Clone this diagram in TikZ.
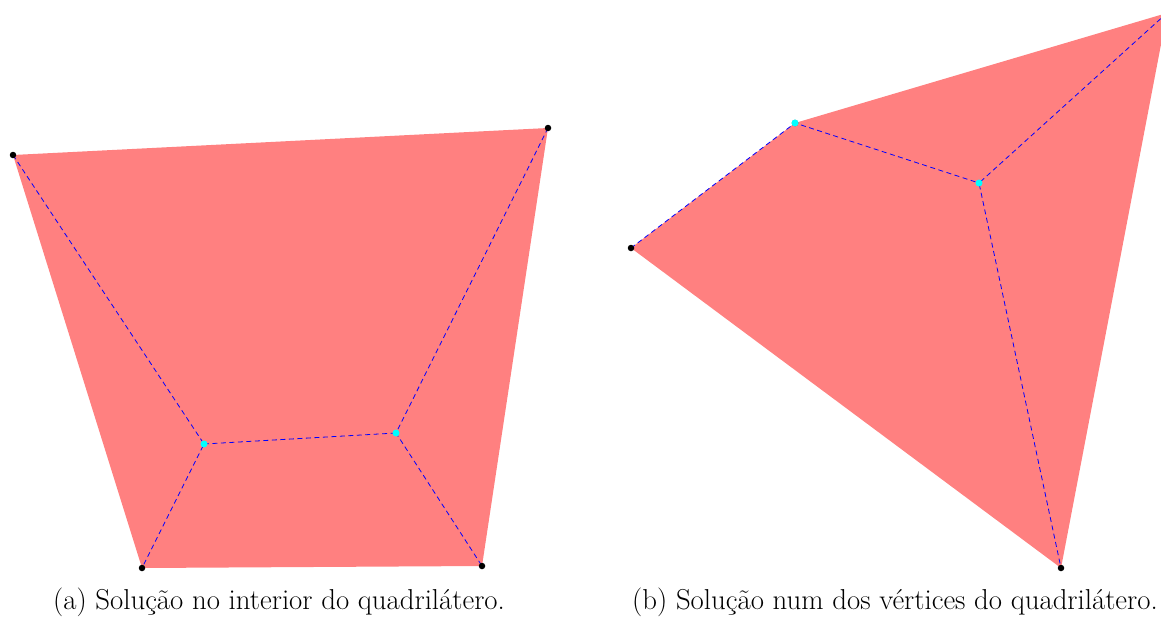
\documentclass[tikz,border=0pt]{standalone}
\usepackage{fontspec}
\definecolor{ptcyan}{RGB}{0,255,255}
\begin{document}
\begin{tikzpicture}[x=1pt,y=-1pt,
  region/.style={fill=red!50,draw=none},
  steiner/.style={blue,dashed,line width=0.8pt,dash pattern=on 5pt off 3.5pt},
  vtx/.style={circle,fill=black,inner sep=0pt,minimum size=6.5pt},
  spt/.style={circle,fill=ptcyan,inner sep=0pt,minimum size=7pt},
  captext/.style={font=\fontsize{28.8}{32}\selectfont,inner sep=0pt,anchor=base}]
\useasboundingbox (0,0) rectangle (1161,616);
% (a)
\coordinate (A) at (13,155);
\coordinate (B) at (548,128);
\coordinate (C) at (482,566);
\coordinate (D) at (142,568);
\coordinate (S1) at (204,444);
\coordinate (S2) at (396,433);
\fill[region] (A) -- (B) -- (C) -- (D) -- cycle;
\draw[steiner] (A) -- (S1) -- (D);
\draw[steiner] (S1) -- (S2);
\draw[steiner] (B) -- (S2) -- (C);
\foreach \p in {A,B,C,D} \node[vtx] at (\p) {};
\foreach \p in {S1,S2} \node[spt] at (\p) {};
% (b)
\coordinate (P) at (631,248);
\coordinate (V) at (795,123);
\coordinate (Q) at (1167,13);
\coordinate (R) at (1061,568);
\coordinate (W) at (979,183);
\fill[region] (P) -- (V) -- (Q) -- (R) -- cycle;
\draw[steiner] (P) -- (V) -- (W);
\draw[steiner] (Q) -- (W) -- (R);
\foreach \p in {P,V,Q,R} \node[vtx] at (\p) {};
\foreach \p in {V,W} \node[spt] at (\p) {};
\node[captext] (capa) at (279,609) {(a) Solução no interior do quadrilátero.};
\node[captext] (capb) at (895,609) {(b) Solução num dos vértices do quadrilátero.};
\end{tikzpicture}
\end{document}
